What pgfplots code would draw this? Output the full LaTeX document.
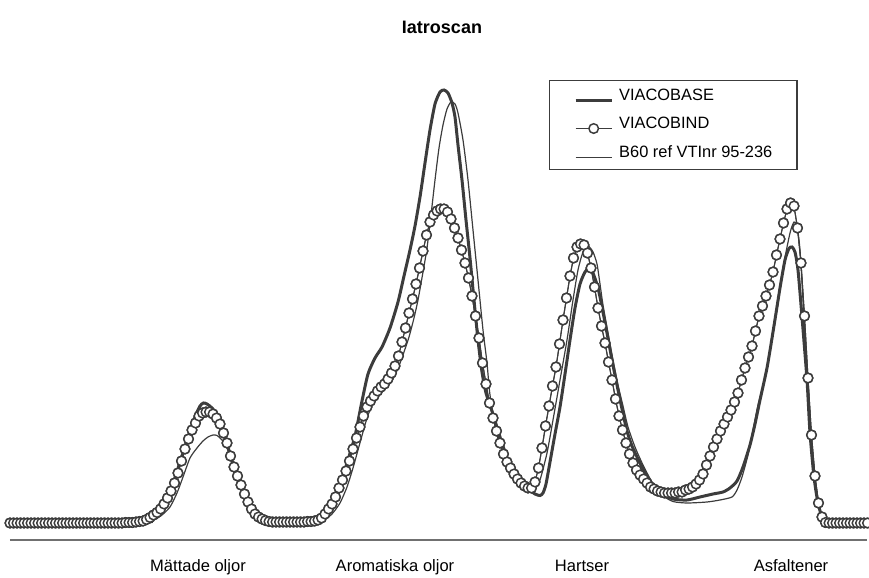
\documentclass[border=0pt]{standalone}
\usepackage{pgfplots}
\pgfplotsset{compat=1.18}
\usepackage{pgfplotstable}
\usepackage{fontspec}
\setmainfont{Liberation Sans}
\definecolor{ink}{HTML}{3C3C3C}
\definecolor{axisgray}{HTML}{707070}

% columns: x = pixel column, py = pixel row
\pgfplotstableread{
x py
10 523
140 522.5
150 519
158 513
165 503
172 487
180 462
188 438
195 417
200 406
203.5 403
207 404
212 408
217 415
222 428
228 447
234 467
240 484
246 498
252 510
258 517
265 520.5
275 522
310 522
318 520
325 514
332 503
340 485
347 463
355 436
362 401
368 374
375 358
382 347
390 328
398 302
404 276
410 250
415 226
420 197
425 163
430 130
435 104
440 92
444 90
448 93
452 103
455 117
458 145
462 180
466 220
470 258
474 300
478 340
482 372
486 393
492 411
500 437
508 460
517 477
527 488
535 494
540 495.5
543 493
546 484
550 462
555 434
560 407
565 374
570 340
575 308
580 284
585 272
589 268
593 273
598 288
602 307
607 333
612 360
617 385
622 409
627 431
632 446
640 463
650 481
660 493
673 499
687 500
700 497
713 494
723 492
730 488
737 481
743 467
750 445
755 424
760 400
767 368
773 332
780 288
785 260
789 248.5
792 247
795 252
798 270
802 317
807 380
810 433
814 477
818 503
823 520
828 523
867.5 523
}\base

\pgfplotstableread{
x py
10 523
145 522.5
150 522
156 519
162 515
170 507
177 493
183 477
190 458
197 448
203 441
208 437
213 435
217 435.5
222 440
227 448
230 457
234 468
240 484
246 498
252 510
258 517
265 520.5
275 522
315 522
325 519
332 514
340 503
347 487
353 468
358 450
363 432
368 415
374 402
380 394
387 387
393 379
399 366
404 352
409 337
414 318
418 300
423 272
427 248
431 215
435 180
439 148
443 125
447 109
451 102
455 104
458 113
463 140
468 180
473 230
478 280
483 330
487 363
490 395
497 435
507 462
520 482
530 489.5
535 488
540 480
547 453
553 420
560 380
567 340
573 300
578 270
583 252
588 246
593 252
597 264
600 284
603 305
608 333
613 360
618 385
623 406
628 427
635 447
643 465
652 482
662 495
673 501.5
687 503
707 502
720 500
732 497
737 490
742 477
748 455
753 430
758 405
763 386
770 350
777 310
783 268
790 233
794 222
797 226
800 250
803 300
807 375
810 430
814 475
818 503
823 520
828 523
867.5 523
}\ref

\pgfplotstableread{
x py
10 523
13.5 523
17 523
20.5 523
24 523
27.5 523
31 523
34.5 523
38 523
41.5 523
45 523
48.5 523
52 523
55.5 523
59 523
62.5 523
66 523
69.5 523
73 523
76.5 523
80 523
83.5 523
87 523
90.5 523
94 523
97.5 523
101 523
104.5 523
108 523
111.5 523
115 523
118.5 523
122 523
125.5 522.5
129 522.5
132.5 522.5
136 522
139.5 521.5
143 521
146.5 519.5
150 517.5
153.5 515
157 512.5
160.5 509
164 504
167.5 498
171 491
174.5 483
178 473
181.5 461
185 449
188.5 439
192 430
195.5 423
199 416
202.5 413
206 412
209.5 412
213 414
216.5 418
220 424
223.5 433
227 443
230.5 456
234 467
237.5 476
241 485
244.5 494
248 502
251.5 509
255 514
258.5 517
262 519
265.5 520.5
269 521.5
272.5 522
276 522
279.5 522
283 522
286.5 522
290 522
293.5 522
297 522
300.5 522
304 522
307.5 521.5
311 521.5
314.5 521
318 520
321.5 518
325 514
328.5 509
332 504
335.5 497
339 488
342.5 480
346 471
349.5 461
353 449
356.5 438
360 427
363.5 416
367 407
370.5 401
374 396
377.5 391
381 387
384.5 384
388 379
391.5 373
395 366
398.5 356
402 342
405.5 328
409 313
412.5 299
416 284
419.5 268
423 251
426.5 235
430 222
433.5 215
437 211
440.5 209
444 209
447.5 212
451 219
454.5 228
458 238
461.5 250
465 263
468.5 278
472 296
475.5 316
479 338
482.5 363
486 384
489.5 403
493 418
496.5 431
500 443
503.5 454
507 462
510.5 468
514 474
517.5 479
521 483
524.5 486
528 488
531.5 488
535 482
538.5 468
542 448
545.5 426
549 406
552.5 386
556 367
559.5 344
563 320
566.5 298
570 276
573.5 258
577 247
580.5 244
584 245
587.5 253
591 268
594.5 287
598 308
601.5 326
605 343
608.5 362
612 380
615.5 399
619 416
622.5 430
626 443
629.5 454
633 463
636.5 470
640 475
643.5 479
647 483
650.5 487
654 489
657.5 491
661 492
664.5 493
668 493
671.5 493
675 493
678.5 492
682 492
685.5 490
689 489
692.5 487
696 484
699.5 480
703 474
706.5 465
710 456
713.5 447
717 439
720.5 431
724 424
727.5 417
731 410
734.5 402
738 393
741.5 380
745 368
748.5 357
752 346
755.5 331
759 316
762.5 306
766 296
769.5 285
773 272
776.5 255
780 239
783.5 223
787 209
790.5 203
794 206
797.5 228
801 263
804.5 316
808 378
811.5 435
815 476
818.5 503
822 517
825.5 522.5
829 523
832.5 523
836 523
839.5 523
843 523
846.5 523
850 523
853.5 523
857 523
860.5 523
864 523
867.5 523
}\bind

\begin{document}
\begin{tikzpicture}
\begin{axis}[
  x=0.75pt, y=0.75pt,
  xmin=10, xmax=867, ymin=38, ymax=508,
  axis x line=bottom, axis y line=none,
  axis line style={-, draw=axisgray, line width=1.1pt},
  xtick={198,395,582,791},
  xticklabels={Mättade oljor, Aromatiska oljor, Hartser, Asfaltener},
  xtick style={draw=none},
  major tick length=0pt,
  xticklabel style={anchor=base, yshift=-23.5pt, font=\fontsize{12.4}{14}\selectfont, text=black},
  clip=false,
  legend style={at={(axis cs:549,498)}, anchor=north west, draw=ink, line width=0.8pt,
    font=\fontsize{12.3}{14}\selectfont, inner xsep=18.5pt, inner ysep=6pt,
    row sep=9pt, column sep=4.5pt,
    nodes={inner sep=0pt, text height=9pt, text depth=3pt, anchor=base west}},
  legend cell align=left,
  legend image code/.code={\draw[mark repeat=2,mark phase=2,#1] plot coordinates {(0pt,0pt) (13.5pt,0pt) (27pt,0pt)};},
]
\addplot[ink, line width=2.25pt, smooth, tension=0.4] table[x=x, y expr=578-\thisrow{py}] {\base};
\addlegendentry{VIACOBASE}
\addplot[ink, line width=0.8pt, mark=*, mark options={mark size=3.6pt, fill=white, draw=ink, line width=1.1pt}] table[x=x, y expr=578-\thisrow{py}] {\bind};
\addlegendentry{VIACOBIND}
\addplot[ink, line width=0.9pt, smooth, tension=0.4] table[x=x, y expr=578-\thisrow{py}] {\ref};
\addlegendentry{B60 ref VTInr 95-236}
\addplot[ink, line width=0.8pt, mark=*, mark options={mark size=3.6pt, fill=white, draw=ink, line width=1.1pt}, forget plot] table[x=x, y expr=578-\thisrow{py}] {\bind};
\node[anchor=base, font=\fontsize{13.5}{16}\selectfont\bfseries] at (axis cs:442,544) {Iatroscan};
\coordinate (BL) at (axis cs:0,0);
\coordinate (TR) at (axis cs:869,578);
\end{axis}
\pgfresetboundingbox
\path[use as bounding box] (BL) rectangle (TR);
\end{tikzpicture}
\end{document}
